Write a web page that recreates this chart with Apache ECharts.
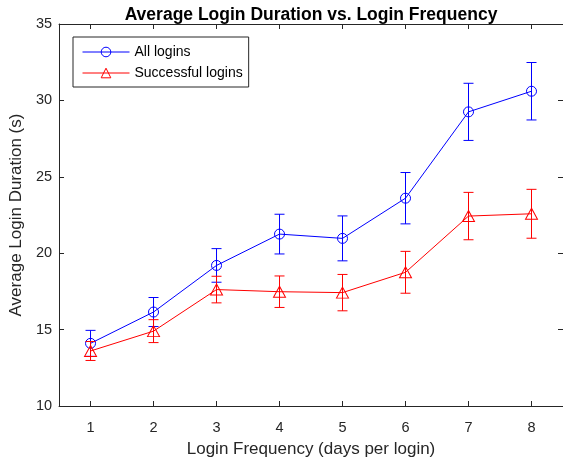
<!DOCTYPE html>
<html>
<head>
<meta charset="utf-8">
<script src="https://cdn.jsdelivr.net/npm/echarts@6/dist/echarts.min.js"></script>
<style>html,body{margin:0;padding:0;background:#fff;}#c{width:563px;height:463px;}</style>
</head>
<body>
<div id="c"></div>
<script>
var frequency = [1, 2, 3, 4, 5, 6, 7, 8];
var allMean = [14.1, 16.15, 19.2, 21.25, 20.97, 23.6, 29.25, 30.6];
var allErr = [0.85, 0.95, 1.1, 1.3, 1.47, 1.68, 1.87, 1.88];
var succMean = [13.6, 14.9, 17.62, 17.48, 17.42, 18.75, 22.43, 22.58];
var succErr = [0.62, 0.75, 0.87, 1.03, 1.19, 1.37, 1.55, 1.6];
var xTicks = [1, 2, 3, 4, 5, 6, 7, 8];
var yTicks = [10, 15, 20, 25, 30, 35];

var FONT = '"Liberation Sans", Arial, Helvetica, sans-serif';
var AX = '#262626';

function pairs(xs, ys) { return xs.map(function (x, i) { return [x, ys[i]]; }); }
function errRows(xs, m, e) { return xs.map(function (x, i) { return [x, m[i], e[i]]; }); }

function errRender(color) {
  return function (params, api) {
    var x = api.value(0), m = api.value(1), e = api.value(2);
    var top = api.coord([x, m + e]);
    var bot = api.coord([x, m - e]);
    var hw = 5;
    var st = { stroke: color, lineWidth: 1, fill: null };
    return {
      type: 'group',
      children: [
        { type: 'line', shape: { x1: top[0], y1: top[1], x2: bot[0], y2: bot[1] }, style: st },
        { type: 'line', shape: { x1: top[0] - hw, y1: top[1], x2: top[0] + hw, y2: top[1] }, style: st },
        { type: 'line', shape: { x1: bot[0] - hw, y1: bot[1], x2: bot[0] + hw, y2: bot[1] }, style: st }
      ]
    };
  };
}

var CIRCLE = 'path://M1,0A1,1,0,1,1,-1,0A1,1,0,1,1,1,0Z';
var TRI = 'path://M0,-1L1,0.8L-1,0.8Z';

var chart = echarts.init(document.getElementById('c'), null, { renderer: 'canvas' });
var axisLine = { show: true, lineStyle: { color: AX, width: 1 } };
chart.setOption({
  animation: false,
  backgroundColor: '#fff',
  title: {
    text: 'Average Login Duration vs. Login Frequency',
    left: 306, textAlign: 'center', top: 1,
    textStyle: { fontFamily: FONT, fontSize: 17.5, fontWeight: 'bold', color: '#000' }
  },
  grid: { left: 57, right: 0, top: 24, bottom: 54, containLabel: false },
  legend: {
    left: 73, top: 37, orient: 'vertical',
    padding: [8, 6, 7, 9], itemGap: 7,
    itemWidth: 47, itemHeight: 12,
    borderColor: '#262626', borderWidth: 1, backgroundColor: '#fff',
    textStyle: { fontFamily: FONT, fontSize: 14, color: '#000' },
    lineStyle: { width: 1 },
    itemStyle: { borderWidth: 1 },
    data: ['All logins', 'Successful logins']
  },
  xAxis: [{
    type: 'value', min: 0.5, max: 8.5, interval: 0.5, position: 'bottom',
    axisLine: axisLine,
    axisTick: { show: true, inside: true, length: 5, lineStyle: { color: AX },
      customValues: xTicks },
    axisLabel: { fontFamily: FONT, fontSize: 14.5, color: AX, margin: 14,
      customValues: xTicks, formatter: function (v) { return String(v); } },
    splitLine: { show: false },
    name: 'Login Frequency (days per login)', nameLocation: 'middle', nameGap: 35,
    nameTextStyle: { fontFamily: FONT, fontSize: 17, color: AX }
  }, {
    type: 'value', min: 0.5, max: 8.5, position: 'top',
    axisLine: axisLine,
    axisTick: { show: true, inside: true, length: 5, lineStyle: { color: AX }, customValues: xTicks },
    axisLabel: { show: false }, splitLine: { show: false }
  }],
  yAxis: [{
    type: 'value', min: 10, max: 35, interval: 5, position: 'left',
    axisLine: axisLine,
    axisTick: { show: true, inside: true, length: 5, lineStyle: { color: AX } },
    axisLabel: { fontFamily: FONT, fontSize: 14.5, color: AX, margin: 7,
      formatter: function (v) { return yTicks.indexOf(v) >= 0 ? String(v) : ''; } },
    splitLine: { show: false },
    name: 'Average Login Duration (s)', nameLocation: 'middle', nameGap: 25,
    nameTextStyle: { fontFamily: FONT, fontSize: 17, color: AX }
  }, {
    type: 'value', min: 10, max: 35, interval: 5, position: 'right',
    axisLine: axisLine,
    axisTick: { show: true, inside: true, length: 5, lineStyle: { color: AX } },
    axisLabel: { show: false }, splitLine: { show: false }
  }],
  series: [{
    type: 'custom', name: 'allErr', renderItem: errRender('#0000ff'),
    data: errRows(frequency, allMean, allErr), encode: { x: 0, y: 1 }, z: 2, silent: true
  }, {
    type: 'line', name: 'All logins', data: pairs(frequency, allMean),
    symbol: CIRCLE, symbolSize: 10, showAllSymbol: true,
    lineStyle: { color: '#0000ff', width: 1 },
    itemStyle: { color: 'rgba(0,0,0,0)', borderColor: '#0000ff', borderWidth: 1 },
    z: 3
  }, {
    type: 'custom', name: 'succErr', renderItem: errRender('#ff0000'),
    data: errRows(frequency, succMean, succErr), encode: { x: 0, y: 1 }, z: 4, silent: true
  }, {
    type: 'line', name: 'Successful logins', data: pairs(frequency, succMean),
    symbol: TRI, symbolSize: [12, 11],
    lineStyle: { color: '#ff0000', width: 1 },
    itemStyle: { color: 'rgba(0,0,0,0)', borderColor: '#ff0000', borderWidth: 1 },
    z: 5
  }]
});
</script>
</body>
</html>
